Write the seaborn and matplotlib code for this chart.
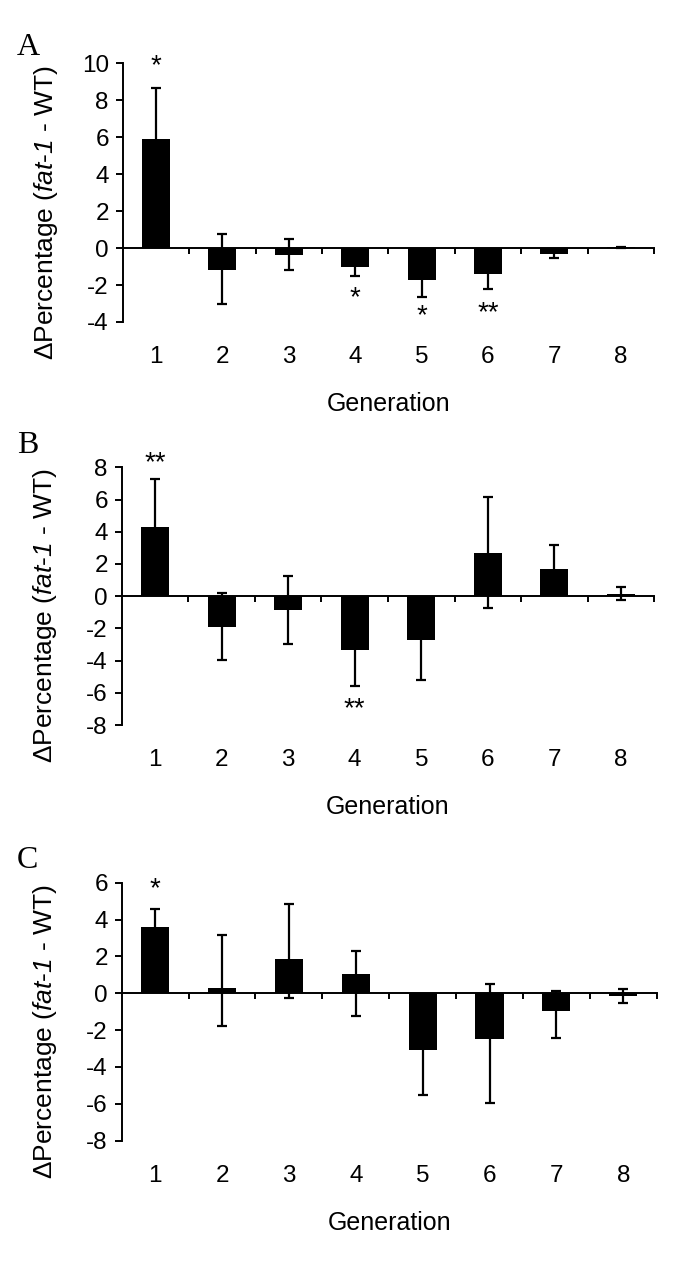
import numpy as np
import pandas as pd
import matplotlib
matplotlib.use("Agg")
import matplotlib.pyplot as plt
import seaborn as sns

# ---------------- data ----------------
generations = ["1", "2", "3", "4", "5", "6", "7", "8"]

a_values = [5.90, -1.17, -0.38, -1.01, -1.75, -1.41, -0.31, 0.05]
a_err_low = [2.76, 1.83, 0.81, 0.49, 0.92, 0.83, 0.23, 0.03]
a_err_high = [2.76, 1.91, 0.89, 0.49, 0.92, 0.83, 0.23, 0.03]
a_stars = ["*", "", "", "*", "*", "**", "", ""]
a_star_y = [9.82, np.nan, np.nan, -2.73, -3.66, -3.54, np.nan, np.nan]

b_values = [4.32, -1.92, -0.83, -3.33, -2.75, 2.71, 1.71, 0.12]
b_err_low = [2.95, 2.07, 2.12, 2.25, 2.46, 3.45, 1.49, 0.35]
b_err_high = [2.95, 2.11, 2.09, 2.25, 2.46, 3.45, 1.49, 0.44]
b_stars = ["**", "", "", "**", "", "", "", ""]
b_star_y = [8.25, np.nan, np.nan, -7.05, np.nan, np.nan, np.nan, np.nan]

c_values = [3.58, 0.27, 1.86, 1.03, -3.09, -2.50, -0.96, -0.13]
c_err_low = [0.98, 2.02, 2.10, 2.24, 2.44, 3.47, 1.46, 0.39]
c_err_high = [0.98, 2.91, 2.97, 1.25, 2.44, 3.01, 1.10, 0.38]
c_stars = ["*", "", "", "", "", "", "", ""]
c_star_y = [5.66, np.nan, np.nan, np.nan, np.nan, np.nan, np.nan, np.nan]

panel_letters = ["A", "B", "C"]
y_limits = [(-4, 10), (-8, 8), (-8, 6)]
y_label = r"ΔPercentage ($\mathbf{fat}$-$\mathbf{1}$ - WT)"
x_label = "Generation"

# ---------------- style ----------------
sns.set_theme(style="white")
plt.rcParams["font.family"] = ["Liberation Sans", "DejaVu Sans"]
plt.rcParams["mathtext.fontset"] = "custom"
plt.rcParams["mathtext.rm"] = "Liberation Sans"
plt.rcParams["mathtext.it"] = "Liberation Sans:italic"
plt.rcParams["mathtext.bf"] = "Liberation Sans:italic"
plt.rcParams["axes.unicode_minus"] = False
plt.rcParams["text.color"] = "black"
plt.rcParams["axes.labelcolor"] = "black"
plt.rcParams["xtick.color"] = "black"
plt.rcParams["ytick.color"] = "black"

W, H = 680, 1288
fig = plt.figure(figsize=(W / 100, H / 100), dpi=100)

# axes boxes in pixels: (left, right, top, bottom)
boxes = [(122.7, 654.0, 63.3, 322.0),
         (121.7, 654.3, 467.3, 725.0),
         (121.7, 656.7, 882.7, 1140.7)]
letter_baselines = [55, 453, 868]

panels = [
    (a_values, a_err_low, a_err_high, a_stars, a_star_y),
    (b_values, b_err_low, b_err_high, b_stars, b_star_y),
    (c_values, c_err_low, c_err_high, c_stars, c_star_y),
]

LW = 1.4
for k, (vals, elo, ehi, stars, stary) in enumerate(panels):
    l, r, t, b = boxes[k]
    ax = fig.add_axes([l / W, 1 - b / H, (r - l) / W, (b - t) / H])
    df = pd.DataFrame({"Generation": generations, "Delta": vals})
    sns.barplot(data=df, x="Generation", y="Delta", color="black",
                saturation=1, width=0.42, errorbar=None, linewidth=0, ax=ax)
    pos = np.arange(len(generations))
    ax.errorbar(pos, vals, yerr=[elo, ehi], fmt="none", ecolor="black",
                elinewidth=1.6, capsize=3.4, capthick=1.6, zorder=3)
    for i, (s, yy) in enumerate(zip(stars, stary)):
        if s:
            ax.text(pos[i], yy, s, ha="center", va="center", fontsize=20,
                    color="black")

    lo, hi = y_limits[k]
    ax.set_ylim(lo, hi)
    ax.set_xlim(-0.5, len(generations) - 0.5)
    ax.set_yticks(np.arange(lo, hi + 1, 2))
    for side in ["top", "right", "bottom"]:
        ax.spines[side].set_visible(False)
    ax.spines["left"].set_linewidth(LW)
    ax.spines["left"].set_color("black")
    ax.tick_params(axis="y", direction="out", length=5, width=LW,
                   labelsize=17.5, pad=5, left=True)
    ax.tick_params(axis="x", length=0, labelsize=17.5, pad=17.5)

    # zero line with category boundary ticks
    sec = ax.secondary_xaxis(0, transform=ax.transData)
    sec.set_xticks(pos + 0.5)
    sec.tick_params(direction="out", length=4.5, width=LW, labelbottom=False)
    sec.spines["bottom"].set_linewidth(LW)
    sec.spines["bottom"].set_color("black")

    ax.set_ylabel(y_label, fontsize=19)
    ax.set_xlabel(x_label, fontsize=18)
    ax.yaxis.set_label_coords(-0.118, 0.425)
    ax.xaxis.set_label_coords(0.5, -0.272)

    fig.text(17 / W, 1 - letter_baselines[k] / H, panel_letters[k],
             family="Liberation Serif", fontsize=23, ha="left",
             va="baseline", color="black")

fig.savefig("out.png", dpi=100)
